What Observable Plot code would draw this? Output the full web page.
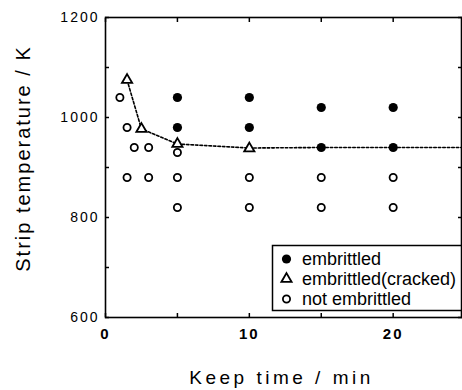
<!DOCTYPE html>
<html><head><meta charset="utf-8">
<script src="https://cdn.jsdelivr.net/npm/d3@7"></script>
<script src="https://cdn.jsdelivr.net/npm/@observablehq/plot@0.6"></script>
<style>
html,body{margin:0;padding:0;background:#fff;overflow:hidden}
</style></head><body><div id="chart"></div>
<script>
// Data (keep time in min, strip temperature in K)
const embTime = [5, 5, 10, 10, 15, 15, 20, 20];
const embTemp = [1040, 980, 1040, 980, 1020, 940, 1020, 940];

const crackTime = [1.5, 2.5, 5, 10];
const crackTemp = [1075, 977, 947, 938];

const notEmbTime = [1, 1.5, 2, 3, 1.5, 3, 5, 5, 5, 10, 10, 15, 15, 20, 20];
const notEmbTemp = [1040, 980, 940, 940, 880, 880, 930, 880, 820, 880, 820, 880, 820, 880, 820];

const boundaryTime = [1.5, 2.5, 5, 10, 15, 20, 25];
const boundaryTemp = [1075, 977, 947, 939, 940, 940, 940];

const xTickLabels = [0, 10, 20];
const xTickAll = [0, 5, 10, 15, 20];
const yTickLabels = [600, 800, 1000, 1200];
const yTickAll = [600, 700, 800, 900, 1000, 1100, 1200];

const legendLabels = ["embrittled", "embrittled(cracked)", "not embrittled"];
const legendSymbols = ["circle", "triangle", "circle"];
const legendFills = ["black", "white", "white"];
const legendR = [4.6, 3.8, 3.6];

const xTitle = "Keep time / min";
const yTitle = "Strip temperature / K";

const zip = (a, b) => a.map((v, i) => ({x: v, y: b[i]}));
const emb = zip(embTime, embTemp);
const crack = zip(crackTime, crackTemp);
const notEmb = zip(notEmbTime, notEmbTemp);
const boundary = zip(boundaryTime, boundaryTemp);

const legendMarks = legendLabels.flatMap((lab, i) => [
  Plot.dot([lab], {frameAnchor: "top-left", dx: 181, dy: 241.5 + i * 20, symbol: legendSymbols[i], r: legendR[i],
    fill: legendFills[i], stroke: "black", strokeWidth: legendFills[i] === "black" ? 0 : 1.8}),
  Plot.text([lab], {text: d => d, frameAnchor: "top-left", dx: 196.5, dy: 241.5 + i * 20, textAnchor: "start",
    lineAnchor: "middle", fontSize: 18, fill: "black"})
]);

const chart = Plot.plot({
  width: 462, height: 390,
  marginLeft: 105, marginRight: 1, marginTop: 17, marginBottom: 73,
  x: {domain: [0, 24.75]},
  y: {domain: [600, 1200]},
  style: {fontFamily: "'Liberation Sans', Arial, sans-serif", background: "white", color: "black"},
  marks: [
    Plot.axisX(xTickAll, {anchor: "bottom", tickSize: -4, strokeWidth: 1.5, tickFormat: () => "", label: null}),
    Plot.axisX(xTickAll, {anchor: "top", tickSize: -4, strokeWidth: 1.5, tickFormat: () => "", label: null}),
    Plot.axisY(yTickAll, {anchor: "left", tickSize: -4, strokeWidth: 1.5, tickFormat: () => "", label: null}),
    Plot.axisY(yTickAll, {anchor: "right", tickSize: -4, strokeWidth: 1.5, tickFormat: () => "", label: null}),
    Plot.axisX(xTickLabels, {anchor: "bottom", tickSize: 0, tickPadding: 11, fontSize: 15, fontWeight: "bold", tickFormat: d => String(d), label: null}),
    Plot.axisY(yTickLabels, {anchor: "left", tickSize: 0, tickPadding: 6, fontSize: 14, tickFormat: d => String(d), label: null}),
    Plot.frame({stroke: "black", strokeWidth: 1.6}),
    Plot.line(boundary, {x: "x", y: "y", stroke: "black", strokeWidth: 1.6, strokeDasharray: "2.5,2", clip: true}),
    Plot.dot(notEmb, {x: "x", y: "y", r: 3.6, fill: "white", stroke: "black", strokeWidth: 1.8}),
    Plot.dot(emb, {x: "x", y: "y", r: 4.6, fill: "black", stroke: "none"}),
    Plot.dot(crack, {x: "x", y: "y", symbol: "triangle", r: 3.8, fill: "white", stroke: "black", strokeWidth: 1.8}),
    Plot.frame({insetLeft: 167, insetTop: 228, insetBottom: 7, fill: "white", stroke: "black", strokeWidth: 1.5}),
    ...legendMarks,
    Plot.text([xTitle], {text: d => d, frameAnchor: "bottom", textAnchor: "middle", lineAnchor: "middle", dx: -2, dy: 60, fontSize: 19}),
    Plot.text([yTitle], {text: d => d, frameAnchor: "left", textAnchor: "middle", lineAnchor: "middle", rotate: -90, dx: -82, dy: -9, fontSize: 20})
  ]
});
const svg = d3.select(chart);
svg.selectAll("text").each(function () {
  const t = this.textContent;
  const s = d3.select(this);
  if (t === xTitle) s.style("letter-spacing", "3.5px");
  else if (t === yTitle) s.style("letter-spacing", "2px");
  else if (/^\d+$/.test(t)) s.style("letter-spacing", "2px");
});
document.getElementById("chart").appendChild(chart);
</script></body></html>
